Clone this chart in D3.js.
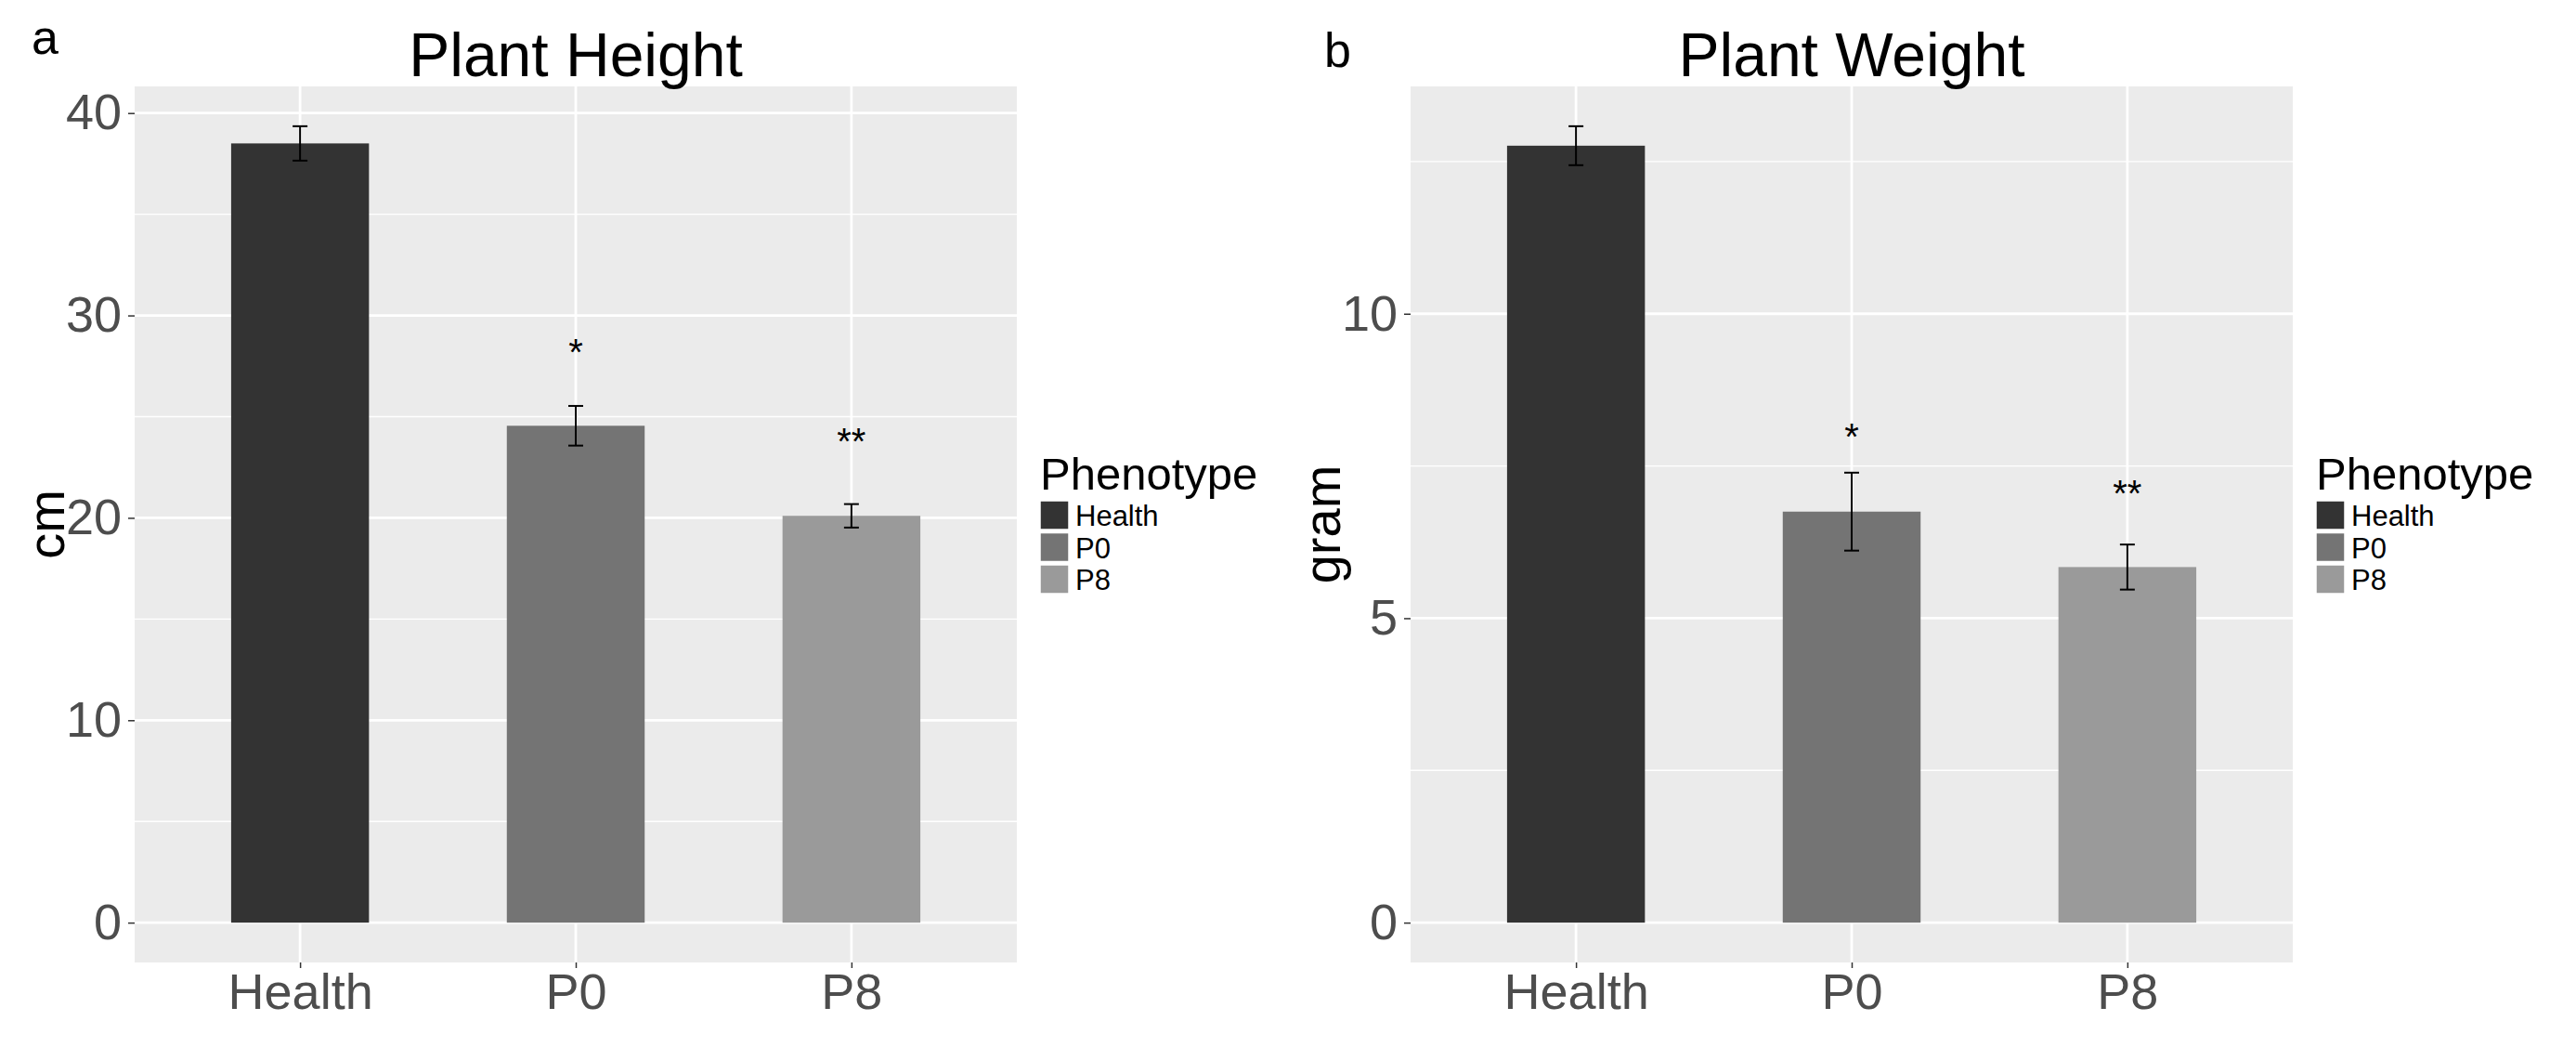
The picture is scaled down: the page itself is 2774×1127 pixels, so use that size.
<!DOCTYPE html>
<html>
<head>
<meta charset="utf-8">
<script src="https://cdn.jsdelivr.net/npm/d3@7"></script>
<style>
  body { margin: 0; background: #fff; }
  svg text { font-family: "Liberation Sans", Arial, sans-serif; }
</style>
</head>
<body>
<svg id="chart" viewBox="0 0 2774 1127" width="2774" height="1127"></svg>
<script>
// data
const categories = ["Health", "P0", "P8"]
const barColors = ["#333333", "#747474", "#9a9a9a"]

const heightMean = [38.5, 24.55, 20.1]
const heightSE = [0.85, 0.98, 0.58]
const heightStars = ["", "*", "**"]
const heightStarY = [null, 28.6, 24.2]
const heightTicks = [0, 10, 20, 30, 40]
const heightMinor = [5, 15, 25, 35]

const weightMean = [12.76, 6.75, 5.84]
const weightSE = [0.32, 0.64, 0.37]
const weightStars = ["", "*", "**"]
const weightStarY = [null, 8.12, 7.19]
const weightTicks = [0, 5, 10]
const weightMinor = [2.5, 7.5, 12.5]

const svg = d3.select("#chart")

function drawPanel(opt)
{
    const left = opt.left, right = opt.left + 950
    const top = 93, bottom = 1036

    // ggplot style 5% expansion from 0 to max of error bar tops
    const maxVal = d3.max(opt.mean, (d, i) => d + opt.se[i])
    const pad = maxVal * 0.05
    const y = d3.scaleLinear().domain([-pad, maxVal + pad]).range([bottom, top])
    const x = d3.scalePoint().domain(categories).range([left, right]).padding(0.6)
    const bw = x.step() * 0.5

    const g = svg.append("g")

    g.append("rect")
        .attr("x", left).attr("y", top)
        .attr("width", right - left).attr("height", bottom - top)
        .attr("fill", "#ebebeb")

    // minor grid
    g.selectAll(".minor").data(opt.minor).enter().append("line")
        .attr("x1", left).attr("x2", right)
        .attr("y1", d => y(d)).attr("y2", d => y(d))
        .attr("stroke", "#fff").attr("stroke-width", 1.4)
    // major grid
    g.selectAll(".major").data(opt.ticks).enter().append("line")
        .attr("x1", left).attr("x2", right)
        .attr("y1", d => y(d)).attr("y2", d => y(d))
        .attr("stroke", "#fff").attr("stroke-width", 2.8)
    g.selectAll(".vgrid").data(categories).enter().append("line")
        .attr("x1", d => x(d)).attr("x2", d => x(d))
        .attr("y1", top).attr("y2", bottom)
        .attr("stroke", "#fff").attr("stroke-width", 2.8)

    // bars
    g.selectAll(".bar").data(categories).enter().append("rect")
        .attr("x", d => x(d) - bw / 2)
        .attr("y", (d, i) => y(opt.mean[i]))
        .attr("width", bw)
        .attr("height", (d, i) => y(0) - y(opt.mean[i]))
        .attr("fill", (d, i) => barColors[i])

    // error bars
    const eb = g.selectAll(".err").data(categories).enter().append("g")
        .attr("stroke", "#000").attr("stroke-width", 2)
    eb.append("line")
        .attr("x1", d => x(d)).attr("x2", d => x(d))
        .attr("y1", (d, i) => y(opt.mean[i] + opt.se[i]))
        .attr("y2", (d, i) => y(opt.mean[i] - opt.se[i]))
    eb.append("line")
        .attr("x1", d => x(d) - 8).attr("x2", d => x(d) + 8)
        .attr("y1", (d, i) => y(opt.mean[i] + opt.se[i]))
        .attr("y2", (d, i) => y(opt.mean[i] + opt.se[i]))
    eb.append("line")
        .attr("x1", d => x(d) - 8).attr("x2", d => x(d) + 8)
        .attr("y1", (d, i) => y(opt.mean[i] - opt.se[i]))
        .attr("y2", (d, i) => y(opt.mean[i] - opt.se[i]))

    // significance stars
    g.selectAll(".star").data(categories).enter().append("text")
        .filter((d, i) => opt.stars[i] != "")
        .attr("x", d => x(d))
        .attr("y", d => y(opt.starY[categories.indexOf(d)]) + 23)
        .attr("text-anchor", "middle")
        .attr("font-size", 40)
        .attr("fill", "#000")
        .text(d => opt.stars[categories.indexOf(d)])

    // axes
    const ya = g.append("g")
        .attr("transform", `translate(${left},0)`)
        .call(d3.axisLeft(y).tickValues(opt.ticks).tickSize(7).tickPadding(7))
    const xa = g.append("g")
        .attr("transform", `translate(0,${bottom})`)
        .call(d3.axisBottom(x).tickSize(6).tickPadding(6))
    ;[ya, xa].forEach(a => {
        a.select(".domain").remove()
        a.selectAll(".tick line").attr("stroke", "#333").attr("stroke-width", 1.5)
        a.selectAll(".tick text").attr("fill", "#4d4d4d").attr("font-size", 54)
            .attr("font-family", "Liberation Sans, Arial, sans-serif")
    })

    // titles
    g.append("text")
        .attr("x", (left + right) / 2).attr("y", 82)
        .attr("text-anchor", "middle").attr("font-size", 66)
        .text(opt.title)
    g.append("text")
        .attr("transform", `translate(${left - 76},${(top + bottom) / 2}) rotate(-90)`)
        .attr("text-anchor", "middle").attr("font-size", 56)
        .text(opt.ylab)
    g.append("text")
        .attr("x", opt.tagX).attr("y", opt.tagY)
        .attr("font-size", 52)
        .text(opt.tag)

    // legend
    const lx = right + 25
    g.append("text")
        .attr("x", lx).attr("y", 527)
        .attr("font-size", 49)
        .text("Phenotype")
    const key = g.selectAll(".key").data(categories).enter().append("g")
        .attr("transform", (d, i) => `translate(${lx},${539 + i * 34.5})`)
    key.append("rect")
        .attr("width", 31).attr("height", 31)
        .attr("fill", (d, i) => barColors[i])
        .attr("stroke", "#fff").attr("stroke-width", 1.5)
    key.append("text")
        .attr("x", 38).attr("y", 27)
        .attr("font-size", 31)
        .text(d => d)
}

drawPanel({
    left: 145, title: "Plant Height", ylab: "cm", tag: "a", tagX: 34, tagY: 58,
    mean: heightMean, se: heightSE, stars: heightStars, starY: heightStarY,
    ticks: heightTicks, minor: heightMinor
})
drawPanel({
    left: 1519, title: "Plant Weight", ylab: "gram", tag: "b", tagX: 1426, tagY: 72,
    mean: weightMean, se: weightSE, stars: weightStars, starY: weightStarY,
    ticks: weightTicks, minor: weightMinor
})
</script>
</body>
</html>
